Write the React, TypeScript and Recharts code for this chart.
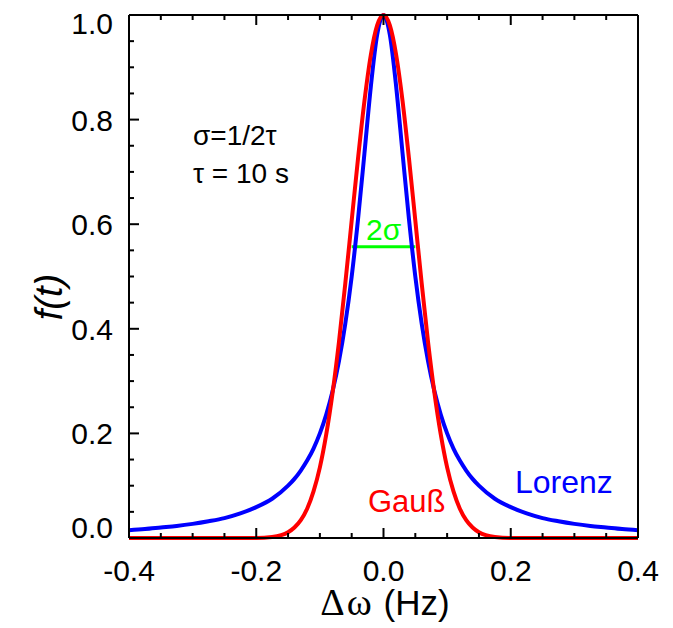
import React from 'react';
import { LineChart, Line, XAxis, YAxis, ReferenceLine } from 'recharts';

// frequency offset (Hz)
const freq = [
  -0.4, -0.375, -0.35, -0.325, -0.3, -0.275, -0.25, -0.225, -0.2, -0.175,
  -0.15, -0.14, -0.13, -0.12, -0.11, -0.1, -0.09, -0.08, -0.07, -0.06,
  -0.05, -0.04, -0.03, -0.02, -0.01, 0, 0.01, 0.02, 0.03, 0.04,
  0.05, 0.06, 0.07, 0.08, 0.09, 0.1, 0.11, 0.12, 0.13, 0.14,
  0.15, 0.175, 0.2, 0.225, 0.25, 0.275, 0.3, 0.325, 0.35, 0.375, 0.4,
];

const lorenz = [
  0.015, 0.017, 0.02, 0.023, 0.027, 0.032, 0.038, 0.047, 0.059, 0.075,
  0.1, 0.113, 0.129, 0.148, 0.171, 0.2, 0.236, 0.281, 0.338, 0.41,
  0.5, 0.61, 0.735, 0.862, 0.962, 1, 0.962, 0.862, 0.735, 0.61,
  0.5, 0.41, 0.338, 0.281, 0.236, 0.2, 0.171, 0.148, 0.129, 0.113,
  0.1, 0.075, 0.059, 0.047, 0.038, 0.032, 0.027, 0.023, 0.02, 0.017, 0.015,
];

const gauss = [
  0, 0, 0, 0, 0, 0, 0, 0, 0, 0.002,
  0.011, 0.02, 0.034, 0.056, 0.089, 0.135, 0.198, 0.278, 0.375, 0.487,
  0.607, 0.726, 0.835, 0.923, 0.98, 1, 0.98, 0.923, 0.835, 0.726,
  0.607, 0.487, 0.375, 0.278, 0.198, 0.135, 0.089, 0.056, 0.034, 0.02,
  0.011, 0.002, 0, 0, 0, 0, 0, 0, 0, 0, 0,
];

const xTicks = [-0.4, -0.35, -0.3, -0.25, -0.2, -0.15, -0.1, -0.05, 0, 0.05, 0.1, 0.15, 0.2, 0.25, 0.3, 0.35, 0.4];
const yTicks = [0, 0.05, 0.1, 0.15, 0.2, 0.25, 0.3, 0.35, 0.4, 0.45, 0.5, 0.55, 0.6, 0.65, 0.7, 0.75, 0.8, 0.85, 0.9, 0.95, 1];

// 2σ marker
const sigmaBar = [-0.05, 0.05];
const sigmaLevel = 0.557;

const data = freq.map((f, i) => ({ f, lorenz: lorenz[i], gauss: gauss[i] }));

const FONT = '"Liberation Sans", Arial, sans-serif';
const SERIF = '"Liberation Serif", "Times New Roman", serif';
const isMajor = (v: number) => Math.abs(v * 5 - Math.round(v * 5)) < 1e-6;

const BottomTick = (props: any) => {
  const { x, y, payload } = props;
  const major = isMajor(payload.value);
  return (
    <g>
      <line x1={x} y1={y} x2={x} y2={y - (major ? 10 : 5)} stroke="#000" strokeWidth={2} />
      {major && (
        <text x={x} y={y + 43} textAnchor="middle" fontSize={30} fontFamily={FONT} fill="#000" stroke="none">
          {payload.value.toFixed(1)}
        </text>
      )}
    </g>
  );
};

const TopTick = (props: any) => {
  const { x, y, payload } = props;
  const major = isMajor(payload.value);
  return <line x1={x} y1={y} x2={x} y2={y + (major ? 10 : 5)} stroke="#000" strokeWidth={2} />;
};

const LeftTick = (props: any) => {
  const { x, y, payload } = props;
  const v = payload.value;
  const major = isMajor(v);
  let dy = 11;
  if (v === 0) dy = 0;
  if (v === 1) dy = 19;
  return (
    <g>
      <line x1={x} y1={y} x2={x + (major ? 10 : 5)} y2={y} stroke="#000" strokeWidth={2} />
      {major && (
        <text x={x - 16} y={y + dy} textAnchor="end" fontSize={30} fontFamily={FONT} fill="#000" stroke="none">
          {v.toFixed(1)}
        </text>
      )}
    </g>
  );
};

const RightTick = (props: any) => {
  const { x, y, payload } = props;
  const major = isMajor(payload.value);
  return <line x1={x} y1={y} x2={x - (major ? 10 : 5)} y2={y} stroke="#000" strokeWidth={2} />;
};

const axisLine = { stroke: '#000', strokeWidth: 2 };

export default function App() {
  return (
    <div style={{ position: 'absolute', left: 0, top: 0, width: 673, height: 628, background: '#fff' }}>
      <LineChart width={673} height={628} data={data} margin={{ top: 14, right: 34, bottom: 89, left: 128 }}>
        <XAxis xAxisId="b" dataKey="f" type="number" domain={[-0.4, 0.4]} ticks={xTicks} interval={0}
          height={1} tickSize={0} tickMargin={0} axisLine={axisLine} tickLine={false} tick={<BottomTick />} />
        <XAxis xAxisId="t" orientation="top" dataKey="f" type="number" domain={[-0.4, 0.4]} ticks={xTicks} interval={0}
          height={1} tickSize={0} tickMargin={0} axisLine={axisLine} tickLine={false} tick={<TopTick />} />
        <YAxis yAxisId="l" type="number" domain={[0, 1]} ticks={yTicks} interval={0}
          width={1} tickSize={0} tickMargin={0} axisLine={axisLine} tickLine={false} tick={<LeftTick />} />
        <YAxis yAxisId="r" orientation="right" type="number" domain={[0, 1]} ticks={yTicks} interval={0}
          width={1} tickSize={0} tickMargin={0} axisLine={axisLine} tickLine={false} tick={<RightTick />} />
        <ReferenceLine xAxisId="b" yAxisId="l"
          segment={[{ x: sigmaBar[0], y: sigmaLevel }, { x: sigmaBar[1], y: sigmaLevel }]}
          stroke="#00ff00" strokeWidth={3} />
        <Line xAxisId="b" yAxisId="l" type="monotone" dataKey="lorenz" stroke="#0000ff" strokeWidth={4}
          dot={false} isAnimationActive={false} />
        <Line xAxisId="b" yAxisId="l" type="monotone" dataKey="gauss" stroke="#ff0000" strokeWidth={4}
          dot={false} isAnimationActive={false} />
      </LineChart>
      <svg width={673} height={628} style={{ position: 'absolute', left: 0, top: 0, pointerEvents: 'none' }}>
        <g fontFamily={FONT}>
          <text x={193} y={145} fontSize={28} fill="#000">σ=1/2τ</text>
          <text x={193} y={183} fontSize={28} fill="#000">τ = 10 s</text>
          <text x={366} y={240} fontSize={30} fill="#00ff00">2σ</text>
          <text x={368} y={512} fontSize={31} fill="#ff0000">Gauß</text>
          <text x={515} y={493} fontSize={32} fill="#0000ff">Lorenz</text>
          <text x={385} y={615} fontSize={35} textAnchor="middle" fill="#000">
            <tspan fontFamily={SERIF} fontSize={38} letterSpacing={2}>Δω</tspan> (Hz)
          </text>
          <text transform="translate(62,297) rotate(-90)" fontSize={38} fontStyle="italic" textAnchor="middle" fill="#000">f(t)</text>
        </g>
      </svg>
    </div>
  );
}
